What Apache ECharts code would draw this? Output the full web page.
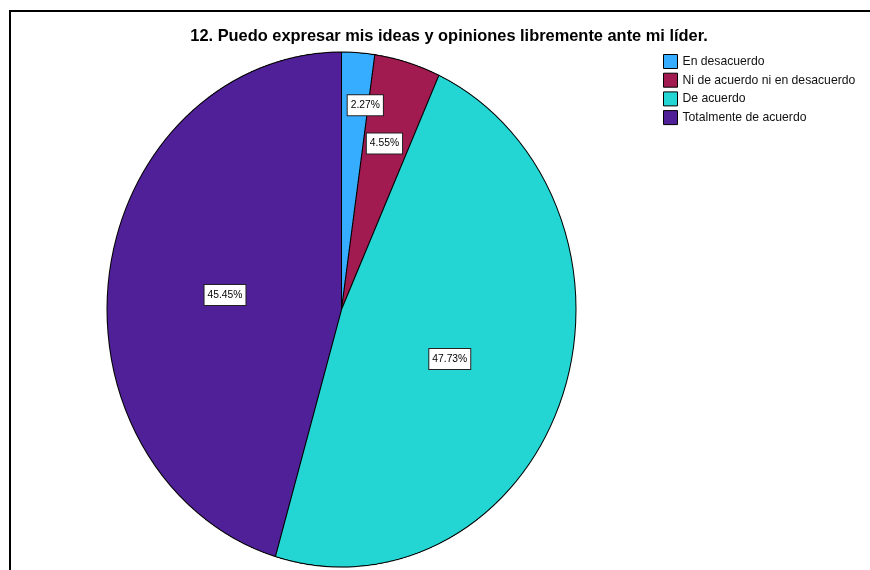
<!DOCTYPE html>
<html>
<head>
<meta charset="utf-8">
<title>12. Puedo expresar mis ideas y opiniones libremente ante mi líder.</title>
<script src="https://cdn.jsdelivr.net/npm/echarts@6/dist/echarts.min.js"></script>
<style>
  html, body { margin: 0; padding: 0; background: #fff; }
  #wrap { position: relative; width: 870px; height: 570px; overflow: hidden; background: #fff; }
  #pie, #main { position: absolute; left: 0; top: 0; width: 870px; height: 570px; }
  /* the pie is drawn a little taller than wide */
  #pie { transform-origin: 0 309.5px; transform: scaleY(1.098); }
</style>
</head>
<body>
<div id="wrap">
  <div id="pie"></div>
  <div id="main"></div>
</div>
<script>
// ---- data ----
const titleText = '12. Puedo expresar mis ideas y opiniones libremente ante mi líder.';
const categories = ['En desacuerdo', 'Ni de acuerdo ni en desacuerdo', 'De acuerdo', 'Totalmente de acuerdo'];
const percents = [2.27, 4.55, 47.73, 45.45];

// ---- styling / layout ----
const colors = ['#37adff', '#a11a50', '#23d6d3', '#4f2097'];
const FONT = '"Liberation Sans", Arial, Helvetica, sans-serif';
const CX = 341.5, CY = 309.5, R = 234.5, K = 1.098;   // pie centre, radius, vertical stretch
const labelRadius = [0.80, 0.67, 0.50, 0.50];         // label distance as share of radius
const labelAngleShift = [3.2, -0.5, 2.1, -1.7];       // degrees, nudges labels inside thin slices

const seriesData = categories.map((name, i) => ({ name, value: percents[i] }));
const total = percents.reduce((a, b) => a + b, 0);
let acc = 0;
const midAngles = percents.map(v => { const m = acc + v / 2; acc += v; return m / total * 360; });

// ---- pie slices (stretched layer) ----
const pieChart = echarts.init(document.getElementById('pie'), null, { renderer: 'canvas', devicePixelRatio: 2 });
pieChart.setOption({
  animation: false,
  color: colors,
  series: [{
    type: 'pie',
    center: [CX, CY],
    radius: R,
    startAngle: 90,
    clockwise: true,
    silent: true,
    label: { show: false },
    labelLine: { show: false },
    emphasis: { disabled: true },
    itemStyle: { borderColor: '#000', borderWidth: 1 },
    data: seriesData
  }]
});

// ---- frame, title, legend, value labels ----
const chart = echarts.init(document.getElementById('main'), null, { renderer: 'canvas' });
chart.setOption({
  animation: false,
  backgroundColor: 'transparent',
  color: colors,
  title: {
    text: titleText,
    left: 444,
    textAlign: 'center',
    top: 23,
    textStyle: { fontFamily: FONT, fontSize: 16.4, fontWeight: 'bold', color: '#000' }
  },
  graphic: [{
    type: 'polyline',
    shape: { points: [[10, 570], [10, 11], [870, 11]] },
    style: { stroke: '#000', lineWidth: 2, fill: null },
    silent: true
  }],
  legend: {
    orient: 'vertical',
    left: 663,
    top: 54,
    padding: 0,
    itemWidth: 14,
    itemHeight: 14,
    itemGap: 3.7,
    icon: 'rect',
    selectedMode: false,
    textStyle: { fontFamily: FONT, fontSize: 12.2, color: '#111' },
    data: categories.map((name, i) => ({
      name,
      icon: 'rect',
      itemStyle: { color: colors[i], opacity: 1, borderColor: '#000', borderWidth: 1 }
    }))
  },
  series: [{
    type: 'pie',
    center: [CX, CY],
    radius: R,
    startAngle: 90,
    clockwise: true,
    silent: true,
    emphasis: { disabled: true },
    itemStyle: { color: 'rgba(0,0,0,0)', borderWidth: 0 },
    labelLine: { show: false },
    label: {
      show: true,
      position: 'inside',
      formatter: p => p.value.toFixed(2) + '%',
      fontFamily: FONT,
      fontSize: 10.3,
      lineHeight: 11,
      color: '#000',
      backgroundColor: '#fff',
      borderColor: '#222',
      borderWidth: 1,
      padding: [5, 3, 4, 3]
    },
    labelLayout: function (params) {
      const i = params.dataIndex;
      const a = (midAngles[i] + labelAngleShift[i]) * Math.PI / 180;
      const f = labelRadius[i];
      return {
        x: CX + R * f * Math.sin(a),
        y: CY - R * K * f * Math.cos(a),
        align: 'center',
        verticalAlign: 'middle'
      };
    },
    data: seriesData
  }]
});
</script>
</body>
</html>
